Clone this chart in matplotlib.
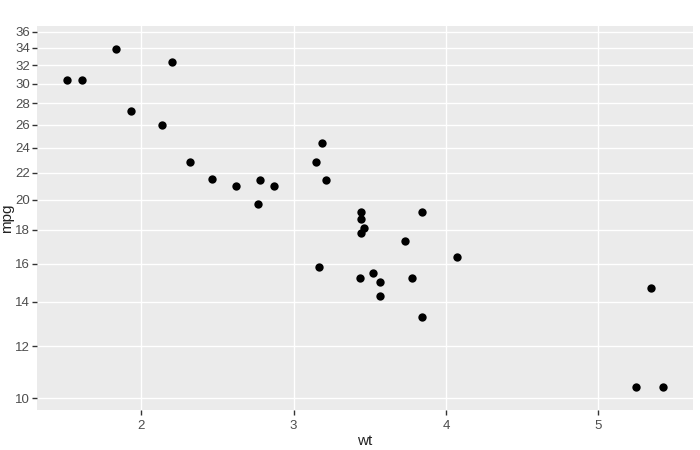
import numpy as np
import matplotlib
matplotlib.use('Agg')
import matplotlib.pyplot as plt
from matplotlib.ticker import FixedLocator, NullLocator

# mtcars: weight vs miles per gallon
wt = [2.620, 2.875, 2.320, 3.215, 3.440, 3.460, 3.570, 3.190, 3.150, 3.440,
      3.440, 4.070, 3.730, 3.780, 5.250, 5.424, 5.345, 2.200, 1.615, 1.835,
      2.465, 3.520, 3.435, 3.840, 3.845, 1.935, 2.140, 1.513, 3.170, 2.770,
      3.570, 2.780]
mpg = [21.0, 21.0, 22.8, 21.4, 18.7, 18.1, 14.3, 24.4, 22.8, 19.2,
       17.8, 16.4, 17.3, 15.2, 10.4, 10.4, 14.7, 32.4, 30.4, 33.9,
       21.5, 15.5, 15.2, 13.3, 19.2, 27.3, 26.0, 30.4, 15.8, 19.7,
       15.0, 21.4]
x_ticks = [2, 3, 4, 5]
y_ticks = list(range(10, 37, 2))

plt.rcParams['font.family'] = ['Liberation Sans', 'DejaVu Sans']

fig = plt.figure(figsize=(7, 4.5), dpi=100)
ax = fig.add_axes([37/700, 1-410/450, (693-37)/700, (410-26)/450])
ax.set_facecolor('#EBEBEB')

ax.scatter(wt, mpg, s=36, color='black', linewidths=0, zorder=3)

ax.set_yscale('log')
ax.set_xlim(1.317, 5.621)
ax.set_ylim(9.60, 36.7)
ax.xaxis.set_major_locator(FixedLocator(x_ticks))
ax.yaxis.set_major_locator(FixedLocator(y_ticks))
ax.yaxis.set_minor_locator(NullLocator())
ax.set_xticklabels([str(t) for t in x_ticks])
ax.set_yticklabels([str(t) for t in y_ticks])

ax.grid(True, color='white', linewidth=1, zorder=0)
ax.set_axisbelow(True)
for s in ax.spines.values():
    s.set_visible(False)
ax.tick_params(axis='both', colors='#333333', labelcolor='#4D4D4D',
               labelsize=9.5, length=3.5, width=1)
ax.tick_params(axis='x', pad=4)
ax.tick_params(axis='y', pad=1.5)

ax.set_xlabel('wt', fontsize=11, color='#222222', labelpad=1)
ax.set_ylabel('mpg', fontsize=11, color='#222222', labelpad=0.5)

fig.savefig('out.png', dpi=100)
